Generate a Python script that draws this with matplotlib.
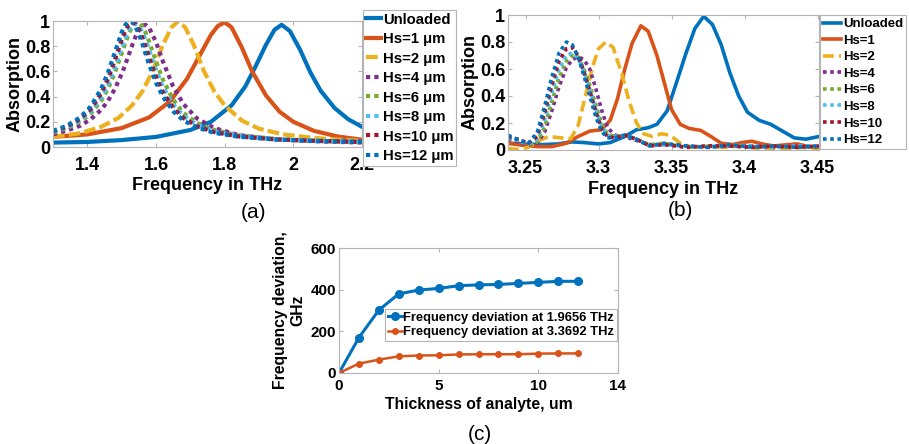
import numpy as np
import matplotlib.pyplot as plt

plt.rcParams['font.family'] = ['Liberation Sans', 'DejaVu Sans']
plt.rcParams['font.weight'] = 'bold'
plt.rcParams['axes.labelweight'] = 'bold'

colors = ['#0072BD', '#D95319', '#EDB120', '#7E2F8E', '#77AC30', '#4DBEEE', '#A2142F', '#0072BD']

# ---- panel (a) data: absorption vs frequency (THz)
freq_unl_a = [1.30, 1.40, 1.50, 1.60, 1.70, 1.76, 1.82, 1.86, 1.89, 1.92, 1.945, 1.966, 1.99, 2.02, 2.05, 2.08, 2.12, 2.16, 2.20]
abs_unl_a = [0.035, 0.04, 0.055, 0.08, 0.135, 0.20, 0.33, 0.48, 0.64, 0.81, 0.93, 0.97, 0.92, 0.77, 0.59, 0.445, 0.31, 0.22, 0.16]

freq_hs1_a = [1.30, 1.40, 1.50, 1.58, 1.64, 1.69, 1.73, 1.76, 1.78, 1.80, 1.82, 1.85, 1.88, 1.92, 1.96, 2.00, 2.06, 2.13, 2.20]
abs_hs1_a = [0.08, 0.10, 0.15, 0.235, 0.36, 0.54, 0.74, 0.89, 0.96, 0.99, 0.95, 0.79, 0.60, 0.41, 0.28, 0.20, 0.128, 0.083, 0.058]

freq_hs2_a = [1.30, 1.38, 1.44, 1.49, 1.53, 1.56, 1.59, 1.62, 1.645, 1.665, 1.685, 1.71, 1.74, 1.77, 1.80, 1.85, 1.90, 1.97, 2.05, 2.12, 2.20]
abs_hs2_a = [0.08, 0.11, 0.16, 0.23, 0.33, 0.44, 0.60, 0.81, 0.95, 1.0, 0.95, 0.81, 0.60, 0.44, 0.33, 0.21, 0.145, 0.10, 0.075, 0.06, 0.05]

freq_dot_a = [1.30, 1.34, 1.38, 1.41, 1.44, 1.46, 1.48, 1.50, 1.51, 1.52, 1.53, 1.54, 1.55, 1.56, 1.57, 1.58,
              1.60, 1.62, 1.65, 1.68, 1.72, 1.77, 1.84, 1.95, 2.07, 2.20]
abs_hs4_a = [0.10, 0.13, 0.17, 0.22, 0.295, 0.365, 0.46, 0.58, 0.65, 0.726, 0.803, 0.873, 0.93, 0.963, 0.969, 0.946,
             0.833, 0.68, 0.48, 0.34, 0.225, 0.15, 0.095, 0.06, 0.045, 0.035]
abs_hs6_a = [0.116, 0.15, 0.202, 0.265, 0.365, 0.46, 0.59, 0.742, 0.82, 0.894, 0.951, 0.984, 0.987, 0.96, 0.907, 0.837,
             0.68, 0.535, 0.375, 0.27, 0.19, 0.135, 0.093, 0.064, 0.049, 0.04]
abs_hs8_a = [0.12, 0.155, 0.21, 0.28, 0.39, 0.49, 0.63, 0.786, 0.862, 0.925, 0.967, 0.98, 0.962, 0.914, 0.847, 0.77,
             0.612, 0.48, 0.337, 0.248, 0.175, 0.125, 0.088, 0.06, 0.048, 0.04]
abs_hs10_a = [0.125, 0.16, 0.225, 0.30, 0.425, 0.54, 0.69, 0.853, 0.92, 0.97, 0.99, 0.976, 0.934, 0.868, 0.79, 0.71,
              0.556, 0.435, 0.31, 0.23, 0.164, 0.118, 0.084, 0.06, 0.048, 0.04]
abs_hs12_a = [0.128, 0.168, 0.237, 0.323, 0.46, 0.59, 0.75, 0.91, 0.967, 0.997, 0.994, 0.957, 0.896, 0.82, 0.735, 0.653,
              0.51, 0.40, 0.284, 0.21, 0.154, 0.112, 0.082, 0.059, 0.048, 0.042]

# ---- panel (b) data
freq_unl_b = [3.238, 3.25, 3.262, 3.272, 3.282, 3.29, 3.30, 3.308, 3.318, 3.326, 3.334, 3.34, 3.347, 3.354, 3.36, 3.366,
              3.372, 3.378, 3.384, 3.39, 3.396, 3.402, 3.41, 3.418, 3.426, 3.434, 3.442, 3.451]
abs_unl_b = [0.05, 0.045, 0.04, 0.045, 0.06, 0.055, 0.045, 0.055, 0.10, 0.15, 0.165, 0.19, 0.29, 0.52, 0.72, 0.90,
             0.99, 0.93, 0.78, 0.57, 0.40, 0.28, 0.22, 0.19, 0.14, 0.09, 0.08, 0.10]

freq_hs1_b = [3.238, 3.248, 3.258, 3.268, 3.278, 3.286, 3.294, 3.302, 3.308, 3.313, 3.318, 3.323, 3.329, 3.334, 3.34,
              3.345, 3.35, 3.356, 3.362, 3.37, 3.377, 3.384, 3.392, 3.398, 3.405, 3.412, 3.42, 3.43, 3.436, 3.444, 3.451]
abs_hs1_b = [0.05, 0.035, 0.025, 0.025, 0.05, 0.10, 0.14, 0.15, 0.22, 0.38, 0.60, 0.79, 0.92, 0.88, 0.70,
             0.50, 0.30, 0.19, 0.16, 0.145, 0.10, 0.05, 0.04, 0.055, 0.065, 0.045, 0.03, 0.04, 0.045, 0.025, 0.02]

freq_hs2_b = [3.238, 3.245, 3.252, 3.259, 3.266, 3.274, 3.281, 3.286, 3.291, 3.296, 3.30, 3.305, 3.31, 3.316, 3.321,
              3.326, 3.331, 3.337, 3.343, 3.349, 3.356, 3.364, 3.375, 3.386, 3.398, 3.41, 3.42, 3.432, 3.44, 3.451]
abs_hs2_b = [0.01, 0.005, 0.02, 0.07, 0.10, 0.09, 0.085, 0.18, 0.40, 0.62, 0.75, 0.80, 0.76, 0.56, 0.36,
             0.20, 0.12, 0.10, 0.12, 0.11, 0.05, 0.02, 0.03, 0.02, 0.03, 0.01, 0.0, 0.01, 0.02, 0.01]

freq_dot_b = [3.238, 3.245, 3.252, 3.258, 3.263, 3.268, 3.273, 3.278, 3.282, 3.286, 3.29, 3.294, 3.298, 3.302,
              3.306, 3.311, 3.318, 3.326, 3.335, 3.345, 3.36, 3.375, 3.39, 3.405, 3.42, 3.435, 3.451]
abs_hs4_b = [0.08, 0.06, 0.035, 0.05, 0.13, 0.29, 0.47, 0.61, 0.67, 0.69, 0.67, 0.60, 0.46, 0.30,
             0.17, 0.11, 0.10, 0.07, 0.04, 0.04, 0.03, 0.02, 0.03, 0.03, 0.02, 0.03, 0.02]
abs_hs6_b = [0.09, 0.07, 0.04, 0.06, 0.17, 0.36, 0.54, 0.66, 0.70, 0.69, 0.60, 0.48, 0.34, 0.20,
             0.12, 0.10, 0.11, 0.08, 0.04, 0.05, 0.02, 0.03, 0.03, 0.02, 0.03, 0.02, 0.02]
abs_hs8_b = [0.09, 0.07, 0.045, 0.08, 0.22, 0.42, 0.60, 0.70, 0.72, 0.68, 0.58, 0.45, 0.31, 0.18,
             0.11, 0.10, 0.11, 0.08, 0.03, 0.04, 0.03, 0.02, 0.04, 0.03, 0.02, 0.03, 0.03]
abs_hs10_b = [0.10, 0.08, 0.05, 0.10, 0.27, 0.48, 0.66, 0.75, 0.76, 0.70, 0.58, 0.44, 0.29, 0.16,
              0.10, 0.09, 0.11, 0.08, 0.03, 0.04, 0.02, 0.03, 0.03, 0.02, 0.03, 0.02, 0.03]
abs_hs12_b = [0.11, 0.075, 0.05, 0.13, 0.32, 0.54, 0.72, 0.80, 0.78, 0.69, 0.55, 0.40, 0.25, 0.14,
              0.09, 0.09, 0.11, 0.08, 0.03, 0.05, 0.03, 0.02, 0.04, 0.02, 0.03, 0.02, 0.03]

# ---- panel (c) data: frequency deviation (GHz) vs analyte thickness (um)
thickness = [0, 1, 2, 3, 4, 5, 6, 7, 8, 9, 10, 11, 12]
dev_1p9656 = [0, 170, 302, 380, 398, 406, 419, 423, 425, 430, 435, 440, 440]
dev_3p3692 = [0, 45, 64, 80, 84, 85, 89, 90, 90, 90, 93, 94, 94]

labels_a = ['Unloaded', 'Hs=1 μm', 'Hs=2 μm', 'Hs=4 μm', 'Hs=6 μm', 'Hs=8 μm', 'Hs=10 μm', 'Hs=12 μm']
labels_b = ['Unloaded', 'Hs=1', 'Hs=2', 'Hs=4', 'Hs=6', 'Hs=8', 'Hs=10', 'Hs=12']

W, H = 909, 444
fig = plt.figure(figsize=(W / 100, H / 100), dpi=100)


def px_axes(left, top, right, bottom):
    return fig.add_axes([left / W, 1 - bottom / H, (right - left) / W, (bottom - top) / H])


def style_axes(ax, size):
    for s in ax.spines.values():
        s.set_color('#b4b4b4')
        s.set_linewidth(0.8)
    ax.tick_params(direction='in', top=True, right=True, length=3, color='#b4b4b4',
                   labelsize=size, labelcolor='black')


dot = (0, (1, 1))

# ---- (a)
ax_a = px_axes(53, 21, 362, 147)
series_a = [(freq_unl_a, abs_unl_a, '-'), (freq_hs1_a, abs_hs1_a, '-'), (freq_hs2_a, abs_hs2_a, (0, (2.8, 1.0))),
            (freq_dot_a, abs_hs4_a, dot), (freq_dot_a, abs_hs6_a, dot), (freq_dot_a, abs_hs8_a, dot),
            (freq_dot_a, abs_hs10_a, dot), (freq_dot_a, abs_hs12_a, dot)]
for (f, v, ls), c, lab in zip(series_a, colors, labels_a):
    ax_a.plot(f, v, color=c, lw=3, ls=ls, label=lab)
ax_a.set_xlim(1.3, 2.2)
ax_a.set_ylim(0, 1)
ax_a.set_xticks([1.4, 1.6, 1.8, 2.0, 2.2])
ax_a.set_xticklabels(['1.4', '1.6', '1.8', '2', '2.2'])
ax_a.set_yticks([0, 0.2, 0.4, 0.6, 0.8, 1])
ax_a.set_yticklabels(['0', '0.2', '0.4', '0.6', '0.8', '1'])
style_axes(ax_a, 13)
ax_a.tick_params(axis='x', pad=7)
ax_a.tick_params(axis='y', pad=2)
ax_a.set_xlabel('Frequency in THz', fontsize=13, labelpad=2)
ax_a.set_ylabel('Absorption', fontsize=13, labelpad=1)
leg = ax_a.legend(loc='upper left', bbox_to_anchor=(363 / W, 1 - 10 / H), bbox_transform=fig.transFigure,
                  fontsize=10.7, handlelength=1.0, handletextpad=0.15, borderpad=0.18, labelspacing=0.37,
                  borderaxespad=0, fancybox=False, framealpha=1, edgecolor='#b4b4b4')
leg.get_frame().set_linewidth(0.8)

# ---- (b)
ax_b = px_axes(508, 15, 819, 150)
series_b = [(freq_unl_b, abs_unl_b, '-'), (freq_hs1_b, abs_hs1_b, '-'), (freq_hs2_b, abs_hs2_b, (0, (3, 1.4))),
            (freq_dot_b, abs_hs4_b, dot), (freq_dot_b, abs_hs6_b, dot), (freq_dot_b, abs_hs8_b, dot),
            (freq_dot_b, abs_hs10_b, dot), (freq_dot_b, abs_hs12_b, dot)]
for (f, v, ls), c, lab in zip(series_b, colors, labels_b):
    ax_b.plot(f, v, color=c, lw=2.6, ls=ls, label=lab)
ax_b.set_xlim(3.238, 3.451)
ax_b.set_ylim(0, 1)
ax_b.set_xticks([3.25, 3.3, 3.35, 3.4, 3.45])
ax_b.set_xticklabels(['3.25', '3.3', '3.35', '3.4', '3.45'])
ax_b.set_yticks([0, 0.2, 0.4, 0.6, 0.8, 1])
ax_b.set_yticklabels(['0', '0.2', '0.4', '0.6', '0.8', '1'])
style_axes(ax_b, 13)
ax_b.tick_params(axis='x', pad=7)
ax_b.tick_params(axis='y', pad=2)
ax_b.set_xlabel('Frequency in THz', fontsize=13, labelpad=3)
ax_b.set_ylabel('Absorption', fontsize=13, labelpad=1)
leg = ax_b.legend(loc='upper left', bbox_to_anchor=(820 / W, 1 - 15 / H), bbox_transform=fig.transFigure,
                  fontsize=9.5, handlelength=1.4, handletextpad=0.15, borderpad=0.22, labelspacing=0.33,
                  borderaxespad=0, fancybox=False, framealpha=1, edgecolor='#b4b4b4')
leg.get_frame().set_linewidth(0.8)

# ---- (c)
ax_c = px_axes(339, 248, 618, 373)
ax_c.plot(thickness, dev_1p9656, color=colors[0], lw=2.2, marker='o', ms=5.5,
          label='Frequency deviation at 1.9656 THz')
ax_c.plot(thickness, dev_3p3692, color=colors[1], lw=1.8, marker='o', ms=4,
          label='Frequency deviation at 3.3692 THz')
ax_c.set_xlim(0, 14)
ax_c.set_ylim(0, 600)
ax_c.set_xticks([0, 5, 10, 14])
ax_c.set_yticks([0, 200, 400, 600])
style_axes(ax_c, 11)
ax_c.tick_params(axis='x', pad=4)
ax_c.tick_params(axis='y', pad=2)
ax_c.set_xlabel('Thickness of analyte, um', fontsize=11.3, labelpad=3)
ax_c.set_ylabel('Frequency deviation,\nGHz', fontsize=11.3, labelpad=4)
leg = ax_c.legend(loc='upper right', bbox_to_anchor=(617 / W, 1 - 309 / H), bbox_transform=fig.transFigure,
                  fontsize=9.3, handlelength=1.1, handletextpad=0.1, borderpad=0.2, labelspacing=0.2,
                  borderaxespad=0, fancybox=False, framealpha=1, edgecolor='#b4b4b4')
leg.get_frame().set_linewidth(0.8)

# panel tags
fig.text(253 / W, 1 - 212 / H, '(a)', fontsize=15, weight='normal', ha='center', va='center')
fig.text(680 / W, 1 - 210 / H, '(b)', fontsize=15, weight='normal', ha='center', va='center')
fig.text(480 / W, 1 - 434 / H, '(c)', fontsize=15, weight='normal', ha='center', va='center')

fig.savefig('out.png', dpi=100)
